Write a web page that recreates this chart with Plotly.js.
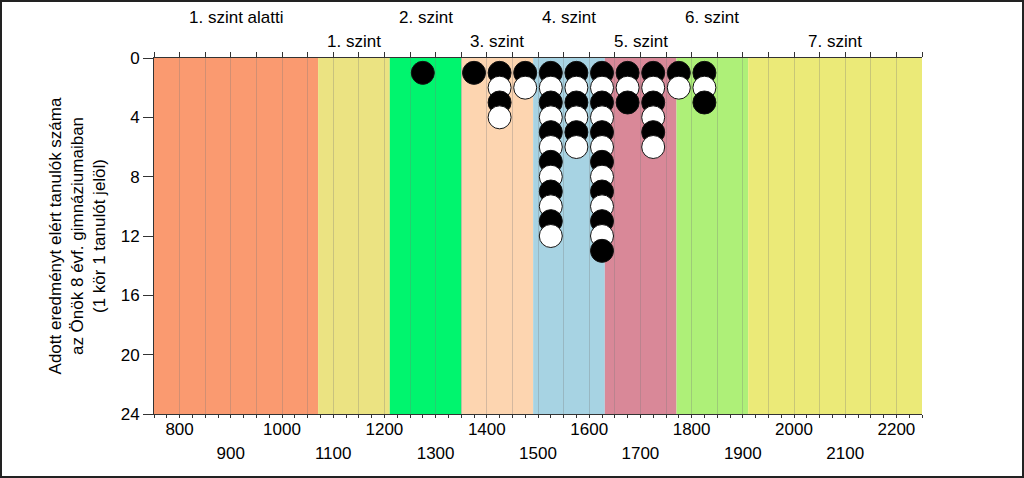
<!DOCTYPE html>
<html>
<head>
<meta charset="utf-8">
<script src="https://cdn.plot.ly/plotly-3.0.1.min.js"></script>
<style>
  body { margin: 0; background: #fff; }
  #wrap { position: relative; width: 1024px; height: 478px; }
  #frame { position: absolute; left: 0; top: 0; width: 1024px; height: 478px;
           box-sizing: border-box; border: 2px solid #222; pointer-events: none; }
</style>
</head>
<body>
<div id="wrap">
  <div id="chart" style="width:1024px;height:478px;"></div>
  <div id="frame"></div>
</div>
<script>
// score bins (middle of each 50 point wide bin) and number of students in them
const binCenters = [1275, 1375, 1425, 1475, 1525, 1575, 1625, 1675, 1725, 1775, 1825];
const studentCounts = [1, 1, 4, 2, 12, 6, 13, 3, 6, 2, 3];

// proficiency levels
const levelNames = ['1. szint alatti', '1. szint', '2. szint', '3. szint',
                    '4. szint', '5. szint', '6. szint', '7. szint'];
const levelLimits = [750, 1070.5, 1210.5, 1350.5, 1490.5, 1630.5, 1770.5, 1910.5, 2250];
const levelColors = ['#fa9a70', '#ebe382', '#00f56e', '#fdd5b0',
                     '#a7d3e3', '#d98898', '#aef078', '#ebea78'];

const xTicksRow1 = [800, 1000, 1200, 1400, 1600, 1800, 2000, 2200];
const xTicksRow2 = [900, 1100, 1300, 1500, 1700, 1900, 2100];
const yTicks = [0, 4, 8, 12, 16, 20, 24];

const FONT = 'Liberation Sans, Arial, sans-serif';

function buildPoints() {
  const xs = [], ys = [], fill = [];
  binCenters.forEach((center, i) => {
    for (let k = 1; k <= studentCounts[i]; k++) {
      xs.push(center);
      ys.push(k);
      fill.push(k % 2 === 1 ? '#000000' : '#ffffff');
    }
  });
  return {xs, ys, fill};
}

const pts = buildPoints();

const circles = {
  x: pts.xs,
  y: pts.ys,
  type: 'scatter',
  mode: 'markers',
  marker: {size: 23, color: pts.fill, line: {color: '#111', width: 1}},
  hoverinfo: 'skip',
  showlegend: false
};

// dummy traces so the extra axes get drawn
const topDummy = {x: [], y: [], xaxis: 'x2', type: 'scatter', showlegend: false};
const row2Dummy = {x: [], y: [], xaxis: 'x3', type: 'scatter', showlegend: false};

const shapes = levelColors.map((c, i) => ({
  type: 'rect', xref: 'x', yref: 'paper',
  x0: levelLimits[i], x1: levelLimits[i + 1], y0: 0, y1: 1,
  fillcolor: c, line: {width: 0}, layer: 'below'
}));

const annotations = levelNames.map((name, i) => ({
  x: (levelLimits[i] + levelLimits[i + 1]) / 2,
  y: 1, xref: 'x', yref: 'paper',
  yanchor: 'middle',
  yshift: i % 2 === 0 ? 41 : 17,
  text: name, showarrow: false,
  font: {family: FONT, size: 17, color: '#000'}
}));

const range = [levelLimits[0], levelLimits[levelLimits.length - 1]];

const layout = {
  width: 1024, height: 478,
  margin: {l: 154, r: 102, t: 58, b: 64},
  paper_bgcolor: '#fff',
  plot_bgcolor: 'rgba(0,0,0,0)',
  font: {family: FONT, size: 17, color: '#000'},
  showlegend: false,
  xaxis: {
    range: range, tickmode: 'array', tickvals: xTicksRow1,
    ticks: 'outside', ticklen: 3, tickcolor: '#333',
    ticklabelstandoff: -3,
    showgrid: false, zeroline: false,
    showline: true, linecolor: '#333', linewidth: 1,
    minor: {dtick: 25, tick0: 0, ticks: 'outside', ticklen: 3, tickcolor: '#333', showgrid: false},
    tickfont: {family: FONT, size: 17}
  },
  xaxis2: {
    range: range, overlaying: 'x', side: 'top', anchor: 'y',
    tickmode: 'linear', tick0: 0, dtick: 50,
    ticks: 'outside', ticklen: 5, tickcolor: '#333',
    showticklabels: false,
    showgrid: true, gridcolor: 'rgba(120,120,120,0.3)', gridwidth: 1,
    zeroline: false, showline: true, linecolor: '#333', linewidth: 1
  },
  xaxis3: {
    range: range, overlaying: 'x', side: 'bottom', anchor: 'y',
    tickmode: 'array', tickvals: xTicksRow2,
    ticks: '', ticklabelstandoff: 27,
    showgrid: false, zeroline: false, showline: false,
    tickfont: {family: FONT, size: 17}
  },
  yaxis: {
    range: [24, 0], tickmode: 'array', tickvals: yTicks,
    ticks: 'outside', ticklen: 10, tickcolor: '#333',
    showgrid: false, zeroline: false,
    showline: true, linecolor: '#333', linewidth: 1,
    tickfont: {family: FONT, size: 17},
    title: {
      text: 'Adott eredményt elért tanulók száma<br>az Önök 8 évf. gimnáziumaiban<br>(1 kör 1 tanulót jelöl)',
      font: {family: FONT, size: 17},
      standoff: 10
    }
  },
  shapes: shapes,
  annotations: annotations
};

Plotly.newPlot('chart', [circles, topDummy, row2Dummy], layout, {displayModeBar: false, staticPlot: true});
</script>
</body>
</html>
